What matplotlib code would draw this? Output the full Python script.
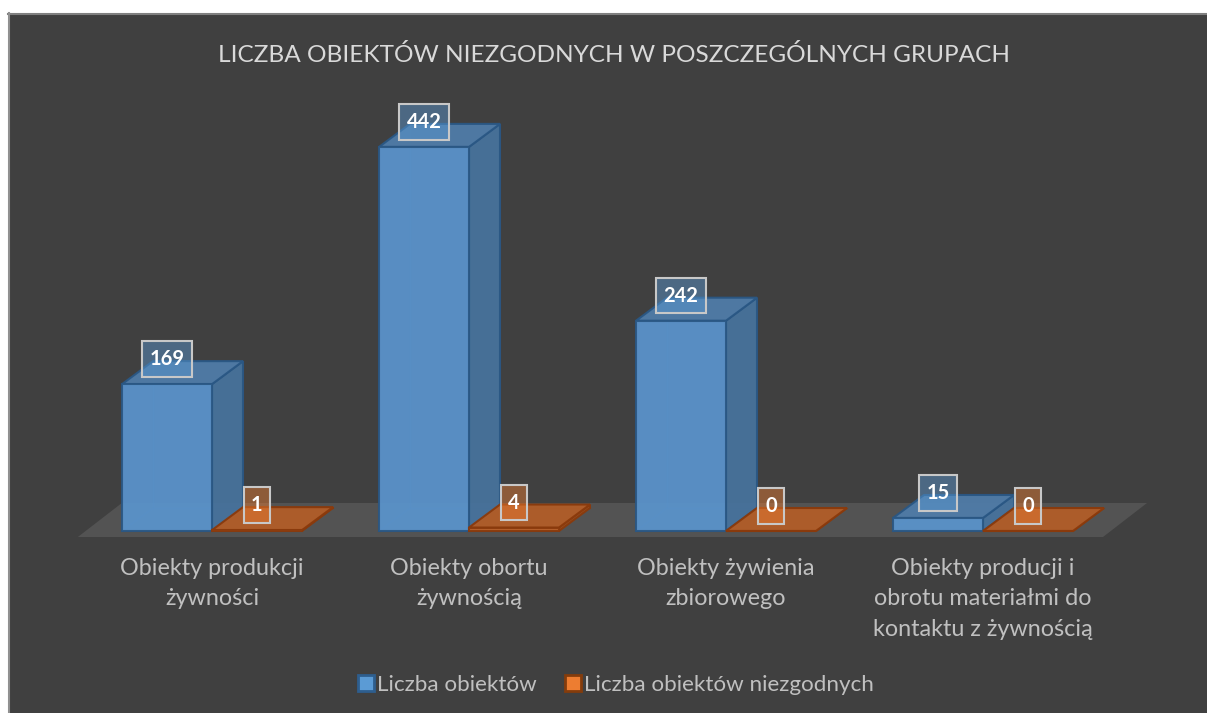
import matplotlib
matplotlib.use('Agg')
import matplotlib.pyplot as plt
from matplotlib.patches import Polygon, Rectangle, Patch
from matplotlib.lines import Line2D
import matplotlib.transforms as mtransforms
import numpy as np

# ---- data ----
categories = ["Obiekty produkcji\nżywności",
              "Obiekty obortu\nżywnością",
              "Obiekty żywienia\nzbiorowego",
              "Obiekty producji i\nobrotu materiałmi do\nkontaktu z żywnością"]
series_names = ["Liczba obiektów", "Liczba obiektów niezgodnych"]
liczba_obiektow = [169, 442, 242, 15]
liczba_niezgodnych = [1, 4, 0, 0]
title = "LICZBA OBIEKTÓW NIEZGODNYCH W POSZCZEGÓLNYCH GRUPACH"

# ---- styles ----
FONT = ['Lato', 'DejaVu Sans']
plt.rcParams['font.family'] = FONT
BG = '#404040'
W, H = 1207, 713
DX, DY = 31, 23          # depth offset of bars (pixels)
FDX, FDY = 44, 34        # depth offset of the floor (pixels)
BAR_W = 0.35

blue = dict(front='#5a94cd', side='#47729c', top='#4f7ca8', edge='#2a5784', label='#5b9bd5')
orange = dict(front='#c0652c', side='#9c4f1f', top='#b25d28', edge='#8a3a0c', label='#ed7d31')

fig = plt.figure(figsize=(W / 100, H / 100), dpi=100)
fig.patch.set_facecolor('white')
fig.add_artist(Rectangle((8 / W, 0), 1 - 8 / W, 1 - 13 / H, transform=fig.transFigure,
                         facecolor=BG, edgecolor='none', zorder=0))
fig.add_artist(Line2D([8 / W, 1], [1 - 13.5 / H, 1 - 13.5 / H], transform=fig.transFigure,
                      color='#808080', lw=1.5, zorder=1))
fig.add_artist(Line2D([8.5 / W, 8.5 / W], [0, 1 - 13 / H], transform=fig.transFigure,
                      color='#909090', lw=1.5, zorder=1))

ax = fig.add_axes([83.5 / W, 182 / H, 1028 / W, 434.5 / H])
ax.set_xlim(-0.5, 3.5)
ax.set_ylim(0, 500)
ax.axis('off')
ax.patch.set_alpha(0)


def off(x, y, dx, dy):
    p = ax.transData.transform((x, y))
    return tuple(ax.transData.inverted().transform(p + np.array([dx, dy])))


def bar3d(x0, w, h, c, z):
    x1 = x0 + w
    # hidden (back) edges, faintly visible through the front
    for a, b in [(off(x0, 0, DX, DY), off(x0, h, DX, DY)),
                 (off(x0, 0, DX, DY), off(x1, 0, DX, DY)),
                 ((x0, 0), off(x0, 0, DX, DY))]:
        ax.plot([a[0], b[0]], [a[1], b[1]], color=c['edge'], lw=1, alpha=0.35,
                zorder=z, clip_on=False)
    side = [(x1, 0), off(x1, 0, DX, DY), off(x1, h, DX, DY), (x1, h)]
    top = [(x0, h), (x1, h), off(x1, h, DX, DY), off(x0, h, DX, DY)]
    front = [(x0, 0), (x1, 0), (x1, h), (x0, h)]
    ax.add_patch(Polygon(side, closed=True, facecolor=c['side'], edgecolor=c['edge'],
                         lw=1.5, alpha=0.95, zorder=z + 1, clip_on=False))
    ax.add_patch(Polygon(top, closed=True, facecolor=c['top'], edgecolor=c['edge'],
                         lw=1.5, alpha=0.95, zorder=z + 1, clip_on=False))
    ax.add_patch(Polygon(front, closed=True, facecolor=c['front'], edgecolor=c['edge'],
                         lw=1.5, alpha=0.93, zorder=z + 2, clip_on=False))


# floor
fl, fr = -0.522, 3.467
f0 = off(fl, 0, 0, -6)
f1 = off(fr, 0, 0, -6)
floor = [f0, f1, off(f1[0], f1[1], FDX, FDY), off(f0[0], f0[1], FDX, FDY)]
ax.add_patch(Polygon(floor, closed=True, facecolor='#535353', edgecolor='none',
                     zorder=1, clip_on=False))

xs = np.arange(len(categories))
for i in xs:
    bx = i - BAR_W
    ox = i
    bar3d(bx, BAR_W, liczba_obiektow[i], blue, 3)
    bar3d(ox, BAR_W, liczba_niezgodnych[i], orange, 6)
    for x0, v, c in [(bx, liczba_obiektow[i], blue), (ox, liczba_niezgodnych[i], orange)]:
        ax.annotate(str(v), xy=(x0 + BAR_W / 2, v), xytext=(0, 25), textcoords='offset pixels',
                    ha='center', va='center', color='white', fontsize=14.5, fontweight='bold',
                    zorder=20, annotation_clip=False,
                    bbox=dict(boxstyle='square,pad=0.38',
                              facecolor=matplotlib.colors.to_rgba(c['label'], 0.45),
                              edgecolor='#c8c8c8', lw=1.5))

# category labels
trans = mtransforms.blended_transform_factory(ax.transData, fig.transFigure)
for i, cat in enumerate(categories):
    ax.text(i, 1 - 558 / H, cat, transform=trans, ha='center', va='top',
            color='#c0c0c0', fontsize=16.8, linespacing=1.55, clip_on=False)

# title
fig.text(614 / W, 1 - 55 / H, title, ha='center', va='center', color='#d9d9d9', fontsize=17.6)

# legend
handles = [Patch(facecolor=blue['label'], edgecolor='#2e5e8e', lw=2),
           Patch(facecolor=orange['label'], edgecolor='#843c0c', lw=2)]
leg = fig.legend(handles, series_names, loc='center', bbox_to_anchor=(616 / W, 1 - 685 / H),
                 ncol=2, frameon=False, fontsize=16.1, handlelength=0.7, handleheight=0.7,
                 handletextpad=0.15, columnspacing=1.25, labelcolor='#c0c0c0')

fig.savefig('out.png', dpi=100, facecolor=fig.get_facecolor())
